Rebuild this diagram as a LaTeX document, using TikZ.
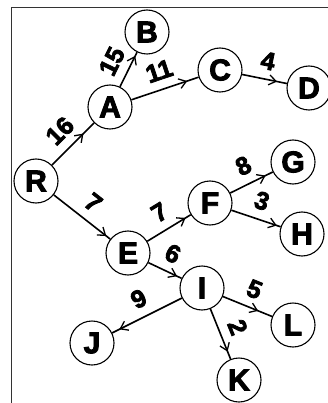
\documentclass[tikz,border=0pt]{standalone}
\usepackage{fontspec}
\newfontfamily\heavyfont{Liberation Sans Bold}[FakeBold=3]
\usetikzlibrary{arrows.meta,decorations.markings}

\tikzset{
  vertex/.style={draw, circle, line width=1.1pt, fill=white, minimum size=44pt,
    inner sep=0pt, font=\heavyfont\fontsize{30}{30}\selectfont},
  edge/.style={line width=1.6pt},
  tipat/.style={postaction={decorate, decoration={markings,
    mark=at position -#1 with {\arrow{Straight Barb[length=7pt,width=10pt,line width=1.3pt]}}}}},
  weight/.style={midway, sloped, above=7pt, inner sep=2pt,
    font=\heavyfont\fontsize{25}{25}\selectfont},
}

\begin{document}
\begin{tikzpicture}[x=1pt, y=-1pt]
  \useasboundingbox (0,0) rectangle (328,403);
  % frame lines along the top and the left side
  \draw[line width=1pt, black!80] (328,8) -- (11,8) -- (11,403);

  % vertices
  \node[vertex] (R) at (36,181)  {R};
  \node[vertex] (A) at (110,107) {A};
  \node[vertex] (B) at (147,32)  {B};
  \node[vertex] (C) at (220,70)  {C};
  \node[vertex] (D) at (309,88)  {D};
  \node[vertex] (E) at (128,253) {E};
  \node[vertex] (F) at (210,203) {F};
  \node[vertex] (G) at (293,162) {G};
  \node[vertex] (H) at (302,234) {H};
  \node[vertex] (I) at (202,288) {I};
  \node[vertex] (J) at (92,343)  {J};
  \node[vertex] (K) at (239,380) {K};
  \node[vertex] (L) at (293,325) {L};

  % weighted directed edges, arrow tip drawn near the head
  \draw[edge, tipat=15pt] (R) -- node[weight] {16} (A);
  \draw[edge, tipat=4pt]  (A) -- node[weight] {15} (B);
  \draw[edge, tipat=12pt] (A) -- node[weight] {11} (C);
  \draw[edge, tipat=10pt] (C) -- node[weight] {4}  (D);
  \draw[edge, tipat=5pt]  (R) -- node[weight] {7}  (E);
  \draw[edge, tipat=6pt]  (E) -- node[weight] {7}  (F);
  \draw[edge, tipat=8pt]  (F) -- node[weight] {8}  (G);
  \draw[edge, tipat=4pt]  (F) -- node[weight] {3}  (H);
  \draw[edge, tipat=5pt]  (E) -- node[weight] {6}  (I);
  \draw[edge, tipat=8pt]  (I) -- node[weight] {9}  (J);
  \draw[edge, tipat=15pt] (I) -- node[weight] {5}  (L);
  \draw[edge, tipat=8pt]  (I) -- node[weight] {2}  (K);
\end{tikzpicture}
\end{document}
